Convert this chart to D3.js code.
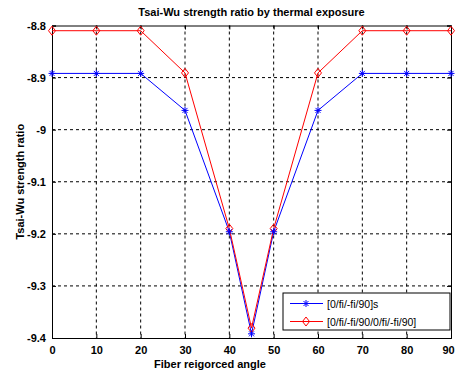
<!DOCTYPE html>
<html>
<head>
<meta charset="utf-8">
<script src="https://cdn.jsdelivr.net/npm/d3@7"></script>
<style>
  body { margin: 0; background: #fff; }
  text { font-family: "Liberation Sans", Arial, sans-serif; font-weight: bold; }
</style>
</head>
<body>
<div id="chart"></div>
<script>
// angles on the x axis
var angles = [0, 10, 20, 30, 40, 45, 50, 60, 70, 80, 90];
// [0/fi/-fi/90]s
var blueVals = [-8.892, -8.892, -8.892, -8.963, -9.196, -9.392, -9.196, -8.963, -8.892, -8.892, -8.892];
// [0/fi/-fi/90/0/fi/-fi/90]
var redVals = [-8.81, -8.81, -8.81, -8.891, -9.19, -9.381, -9.19, -8.891, -8.81, -8.81, -8.81];
var xTicks = [0, 10, 20, 30, 40, 50, 60, 70, 80, 90];
var yTicks = [-9.4, -9.3, -9.2, -9.1, -9, -8.9, -8.8];
var yTickLabels = ['-9.4', '-9.3', '-9.2', '-9.1', '-9', '-8.9', '-8.8'];
var seriesNames = ['[0/fi/-fi/90]s', '[0/fi/-fi/90/0/fi/-fi/90]'];

var width = 457, height = 374;
var pLeft = 52, pRight = 451, pTop = 25.5, pBottom = 338;

var svg = d3.select('#chart').append('svg')
  .attr('width', width)
  .attr('height', height);

var x = d3.scaleLinear().domain([0, 90]).range([pLeft, pRight]);
var y = d3.scaleLinear().domain([-9.4, -8.8]).range([pBottom, pTop]);

// grid
svg.append('g').selectAll('line').data(xTicks.slice(1, -1)).enter().append('line')
  .attr('x1', d => x(d)).attr('x2', d => x(d))
  .attr('y1', pTop).attr('y2', pBottom)
  .style('stroke', '#000').style('stroke-width', 1).style('stroke-dasharray', '3,3');
svg.append('g').selectAll('line').data(yTicks.slice(1, -1)).enter().append('line')
  .attr('x1', pLeft).attr('x2', pRight)
  .attr('y1', d => y(d)).attr('y2', d => y(d))
  .style('stroke', '#000').style('stroke-width', 1).style('stroke-dasharray', '3,3');

// axes
var xAxis = d3.axisBottom(x).tickValues(xTicks).tickSize(-4).tickPadding(8);
var yAxis = d3.axisLeft(y).tickValues(yTicks).tickSize(-4).tickPadding(6)
  .tickFormat((d, i) => yTickLabels[i]);

svg.append('g').attr('transform', 'translate(0,' + pBottom + ')').call(xAxis)
  .call(g => g.selectAll('text').style('font-size', '11px').style('fill', '#000'))
  .call(g => g.selectAll('.tick:last-of-type text').attr('dx', '-3'));
svg.append('g').attr('transform', 'translate(' + pLeft + ',0)').call(yAxis)
  .call(g => g.selectAll('text').style('font-size', '11px').style('fill', '#000'));
svg.append('g').attr('transform', 'translate(0,' + pTop + ')').call(d3.axisTop(x).tickValues(xTicks).tickSize(-4).tickFormat(''));
svg.append('g').attr('transform', 'translate(' + pRight + ',0)').call(d3.axisRight(y).tickValues(yTicks).tickSize(-4).tickFormat(''));
svg.selectAll('.domain').style('stroke', '#000');

// lines
var line = d3.line().x((d, i) => x(angles[i])).y(d => y(d));

svg.append('path').datum(blueVals)
  .attr('d', line).style('fill', 'none').style('stroke', '#0000ff').style('stroke-width', 1);
svg.append('path').datum(redVals)
  .attr('d', line).style('fill', 'none').style('stroke', '#ff0000').style('stroke-width', 1);

function star(g, cx, cy) {
  g.append('path')
    .attr('d', 'M' + (cx - 3.5) + ',' + cy + 'h7M' + cx + ',' + (cy - 3.5) + 'v7M' +
      (cx - 2.5) + ',' + (cy - 2.5) + 'l5,5M' + (cx - 2.5) + ',' + (cy + 2.5) + 'l5,-5')
    .style('stroke', '#0000ff').style('stroke-width', 1).style('fill', 'none');
}
function diamond(g, cx, cy) {
  g.append('path')
    .attr('d', 'M' + cx + ',' + (cy - 4.5) + 'L' + (cx + 3.5) + ',' + cy + 'L' + cx + ',' + (cy + 4.5) +
      'L' + (cx - 3.5) + ',' + cy + 'Z')
    .style('stroke', '#ff0000').style('stroke-width', 1).style('fill', 'none');
}

var markers = svg.append('g');
redVals.forEach((d, i) => diamond(markers, x(angles[i]), y(d)));
blueVals.forEach((d, i) => star(markers, x(angles[i]), y(d)));

// title and labels
svg.append('text').attr('x', (pLeft + pRight) / 2).attr('y', 16)
  .attr('text-anchor', 'middle').style('font-size', '11px').text('Tsai-Wu strength ratio by thermal exposure');
svg.append('text').attr('x', 210).attr('y', 368)
  .attr('text-anchor', 'middle').style('font-size', '11px').text('Fiber reigorced angle');
svg.append('text').attr('transform', 'translate(24,' + ((pTop + pBottom) / 2) + ') rotate(-90)')
  .attr('text-anchor', 'middle').style('font-size', '11px').text('Tsai-Wu strength ratio');

// legend
var lg = svg.append('g');
lg.append('rect').attr('x', 283).attr('y', 293).attr('width', 167).attr('height', 37)
  .style('fill', '#fff').style('stroke', '#000').style('stroke-width', 1);
var rowY = [303.5, 321.5];
var colors = ['#0000ff', '#ff0000'];
rowY.forEach((ry, i) => {
  lg.append('line').attr('x1', 290).attr('x2', 323).attr('y1', ry).attr('y2', ry)
    .style('stroke', colors[i]).style('stroke-width', 1);
  if (i === 0) star(lg, 306, ry); else diamond(lg, 306, ry);
  lg.append('text').attr('x', 327).attr('y', ry + 4).style('font-size', '10.5px')
    .style('font-weight', 'normal').text(seriesNames[i]);
});
</script>
</body>
</html>
